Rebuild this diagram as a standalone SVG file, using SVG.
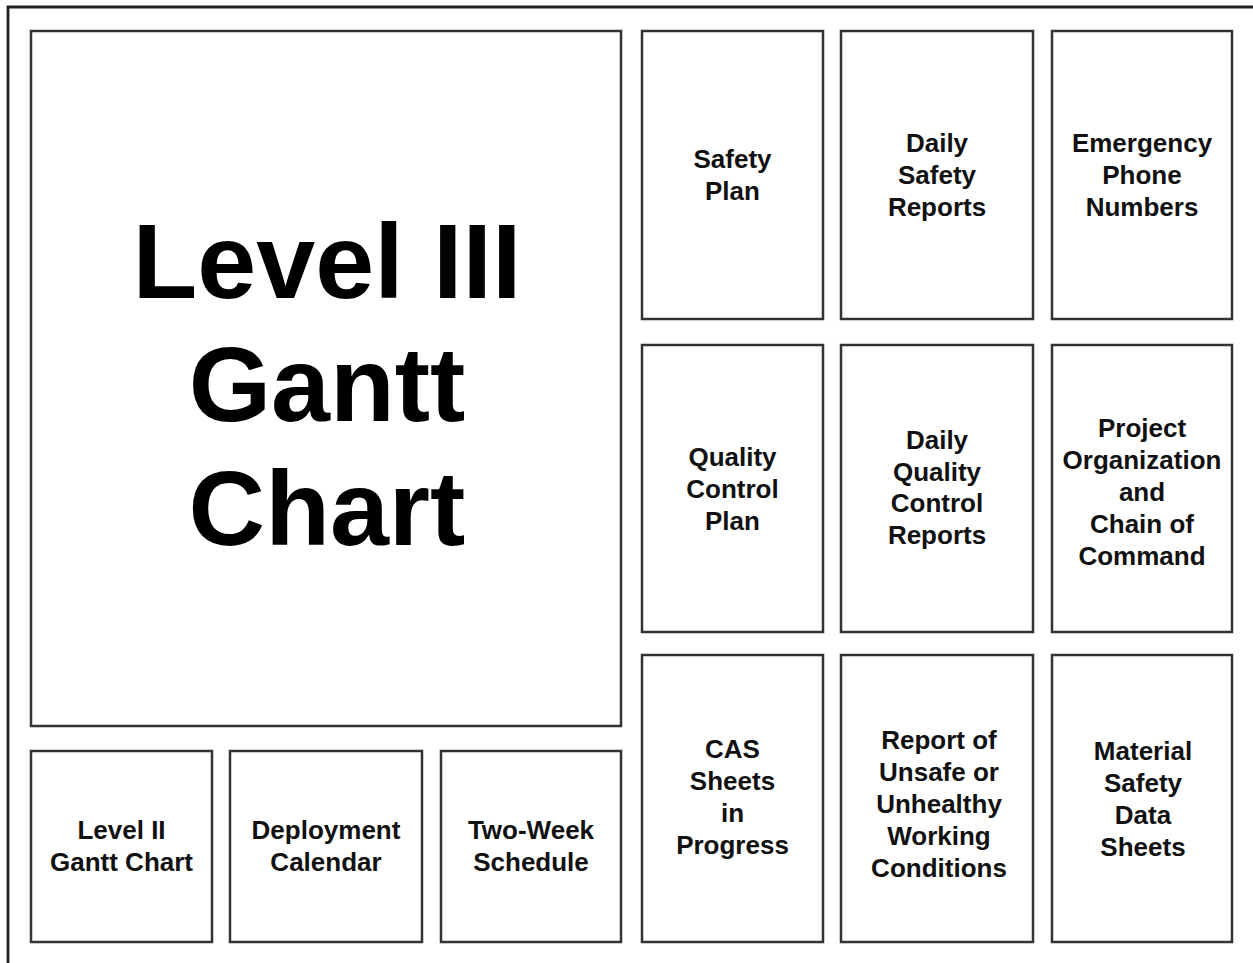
<svg xmlns="http://www.w3.org/2000/svg" width="1253" height="963" viewBox="0 0 1253 963">
<style>
.box{fill:#fff;stroke:#333;stroke-width:2.5}
.t{font-family:"Liberation Sans",Arial,sans-serif;font-weight:bold;font-size:26px;fill:#111;text-anchor:middle}
.big{font-family:"Liberation Sans",Arial,sans-serif;font-weight:bold;font-size:106px;fill:#000;text-anchor:middle}
</style>
<rect x="0" y="0" width="1253" height="963" fill="#fff"/>
<path d="M8,963 V7 H1253" fill="none" stroke="#222" stroke-width="2.8"/>
<g id="level3">
<rect class="box" x="31" y="31" width="590" height="695"/>
<text class="big" x="327" y="298">Level III</text>
<text class="big" x="327" y="421">Gantt</text>
<text class="big" x="327" y="545">Chart</text>
</g>
<g id="level2">
<rect class="box" x="31" y="751" width="181" height="191"/>
<text class="t" x="121.5" y="839">Level II</text>
<text class="t" x="121.5" y="871">Gantt Chart</text>
</g>
<g id="deployment">
<rect class="box" x="230" y="751" width="192" height="191"/>
<text class="t" x="326" y="839">Deployment</text>
<text class="t" x="326" y="871">Calendar</text>
</g>
<g id="twoweek">
<rect class="box" x="441" y="751" width="180" height="191"/>
<text class="t" x="531" y="839">Two-Week</text>
<text class="t" x="531" y="871">Schedule</text>
</g>
<g id="safetyplan">
<rect class="box" x="642" y="31" width="181" height="288"/>
<text class="t" x="732.5" y="168">Safety</text>
<text class="t" x="732.5" y="200">Plan</text>
</g>
<g id="dailysafety">
<rect class="box" x="841" y="31" width="192" height="288"/>
<text class="t" x="937" y="152">Daily</text>
<text class="t" x="937" y="184">Safety</text>
<text class="t" x="937" y="216">Reports</text>
</g>
<g id="emergency">
<rect class="box" x="1052" y="31" width="180" height="288"/>
<text class="t" x="1142" y="152">Emergency</text>
<text class="t" x="1142" y="184">Phone</text>
<text class="t" x="1142" y="216">Numbers</text>
</g>
<g id="qcplan">
<rect class="box" x="642" y="345" width="181" height="287"/>
<text class="t" x="732.5" y="466">Quality</text>
<text class="t" x="732.5" y="498">Control</text>
<text class="t" x="732.5" y="530">Plan</text>
</g>
<g id="dailyqc">
<rect class="box" x="841" y="345" width="192" height="287"/>
<text class="t" x="937" y="449">Daily</text>
<text class="t" x="937" y="481">Quality</text>
<text class="t" x="937" y="512">Control</text>
<text class="t" x="937" y="544">Reports</text>
</g>
<g id="projectorg">
<rect class="box" x="1052" y="345" width="180" height="287"/>
<text class="t" x="1142" y="437">Project</text>
<text class="t" x="1142" y="469">Organization</text>
<text class="t" x="1142" y="501">and</text>
<text class="t" x="1142" y="533">Chain of</text>
<text class="t" x="1142" y="565">Command</text>
</g>
<g id="cas">
<rect class="box" x="642" y="655" width="181" height="287"/>
<text class="t" x="732.5" y="758">CAS</text>
<text class="t" x="732.5" y="790">Sheets</text>
<text class="t" x="732.5" y="822">in</text>
<text class="t" x="732.5" y="854">Progress</text>
</g>
<g id="unsafe">
<rect class="box" x="841" y="655" width="192" height="287"/>
<text class="t" x="939" y="749">Report of</text>
<text class="t" x="939" y="781">Unsafe or</text>
<text class="t" x="939" y="813">Unhealthy</text>
<text class="t" x="939" y="845">Working</text>
<text class="t" x="939" y="877">Conditions</text>
</g>
<g id="msds">
<rect class="box" x="1052" y="655" width="180" height="287"/>
<text class="t" x="1143" y="760">Material</text>
<text class="t" x="1143" y="792">Safety</text>
<text class="t" x="1143" y="824">Data</text>
<text class="t" x="1143" y="856">Sheets</text>
</g>
<g id="connectors"></g>
</svg>
